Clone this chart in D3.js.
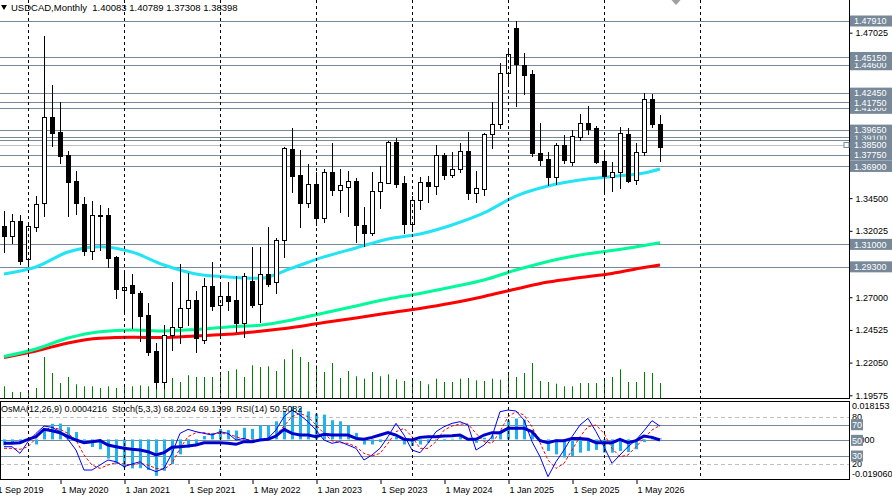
<!DOCTYPE html>
<html>
<head>
<meta charset="utf-8">
<script src="https://cdn.jsdelivr.net/npm/d3@7"></script>
<style>
  body { margin: 0; background: #fff; }
  svg { display: block; font-family: "Liberation Sans", Arial, sans-serif; }
</style>
</head>
<body>
<script>
// USDCAD monthly, first bar = Oct 2019
var firstMonth = new Date(2019, 9, 1);

var open = [1.3239,1.3166,1.3277,1.2987,1.3234,1.3411,1.4064,1.3951,1.3774,1.3580,1.3406,1.3050,1.3320,1.3322,1.3007,1.2755,1.2790,1.2730,1.2565,1.2293,1.2061,
  1.2414,1.2477,1.2616,1.2679,1.2376,1.2785,1.2639,1.2709,1.2679,1.2503,1.2823,1.2646,1.2874,1.2813,1.3133,1.3820,1.3625,1.3411,1.3557,1.3302,1.3646,
  1.3508,1.3537,1.3578,1.3245,1.3189,1.3506,1.3567,1.3873,1.3562,1.3252,1.3434,1.3575,1.3544,1.3779,1.3628,1.3673,1.3805,1.3491,1.3519,1.3933,
  1.4008,1.4395,1.4736,1.4458,1.4390,1.3794,1.3744,1.3608,1.3852,1.3726,1.3915,1.4017,1.3979,1.3731,1.3612,1.3650,1.3936,1.3587,1.3797,1.4198,1.40083];
var high = [1.3353,1.3330,1.3322,1.3272,1.3466,1.4678,1.4304,1.4180,1.3807,1.3653,1.3456,1.3426,1.3398,1.3373,1.3012,1.2883,1.2876,1.2747,1.2656,1.2354,1.2490,
  1.2818,1.2952,1.2881,1.2747,1.2843,1.2964,1.2813,1.2813,1.2861,1.2881,1.3078,1.3078,1.3229,1.3146,1.3840,1.3979,1.3815,1.3709,1.3650,1.3671,1.3865,
  1.3668,1.3658,1.3603,1.3385,1.3646,1.3696,1.3883,1.3903,1.3620,1.3466,1.3612,1.3618,1.3852,1.3790,1.3797,1.3865,1.3949,1.3653,1.3946,1.4180,
  1.4471,1.4587,1.4791,1.4547,1.4420,1.4017,1.3802,1.3868,1.3928,1.3966,1.4087,1.4148,1.3996,1.3815,1.3726,1.3989,1.3981,1.3870,1.4248,1.4238,1.40789];
var low = [1.3045,1.3113,1.2952,1.2944,1.3204,1.3317,1.3845,1.3718,1.3317,1.3330,1.3022,1.2987,1.3058,1.2927,1.2692,1.2588,1.2469,1.2371,1.2263,1.2011,1.2013,
  1.2301,1.2351,1.2490,1.2288,1.2351,1.2603,1.2389,1.2603,1.2439,1.2401,1.2628,1.2515,1.2785,1.2730,1.3005,1.3499,1.3229,1.3385,1.3247,1.3267,1.3474,
  1.3347,1.3315,1.3120,1.3088,1.3171,1.3378,1.3562,1.3537,1.3184,1.3204,1.3366,1.3423,1.3479,1.3593,1.3612,1.3648,1.3441,1.3423,1.3474,1.3827,
  1.3981,1.4322,1.4148,1.4238,1.3769,1.3701,1.3550,1.3557,1.3718,1.3701,1.3890,1.3936,1.3716,1.3479,1.3504,1.3529,1.3575,1.3557,1.3777,1.3991,1.37308];
var close = [1.3166,1.3277,1.2977,1.3239,1.3406,1.4062,1.3946,1.3771,1.3575,1.3411,1.3048,1.3320,1.3325,1.2999,1.2760,1.2780,1.2734,1.2560,1.2288,1.2061,1.2414,
  1.2475,1.2616,1.2679,1.2389,1.2785,1.2634,1.2709,1.2674,1.2503,1.2863,1.2641,1.2874,1.2798,1.3133,1.3827,1.3620,1.3411,1.3557,1.3302,1.3646,1.3512,
  1.3550,1.3578,1.3247,1.3189,1.3506,1.3575,1.3873,1.3555,1.3252,1.3434,1.3575,1.3544,1.3779,1.3628,1.3673,1.3805,1.3491,1.3525,1.3936,1.4009,
  1.4395,1.4539,1.4466,1.4382,1.3794,1.3739,1.3608,1.3852,1.3739,1.3920,1.4017,1.3974,1.3726,1.3620,1.3646,1.3943,1.3582,1.3797,1.4198,1.4010,1.38398];
var volume = [117,60,60,77,100,410,250,150,210,137,117,117,100,117,100,127,117,127,117,100,100,
  200,160,227,210,210,210,250,270,287,210,327,310,317,270,387,487,410,360,327,260,350,
  200,270,217,193,260,217,237,187,170,183,170,137,193,160,160,193,200,177,170,193,
  183,233,210,250,350,170,160,143,117,117,150,150,150,200,210,287,160,160,260,250,150];

// moving averages, read every 4th bar
var maBar = [0,4,8,12,16,20,24,28,32,36,40,44,48,52,56,60,64,68,72,76,80,82];
var maAqua = [1.2876,1.2929,1.3042,1.3083,1.3042,1.2944,1.2876,1.2853,1.2843,1.2921,1.3005,1.3073,1.3141,1.3179,1.3247,1.3338,1.3466,1.3542,1.3587,1.3614,1.3640,1.3671];
var maGreen = [1.2251,1.2308,1.2391,1.2439,1.2452,1.2444,1.2456,1.2475,1.2488,1.2528,1.2581,1.2634,1.2687,1.2728,1.2777,1.2830,1.2906,1.2971,1.3020,1.3054,1.3092,1.3113];
var maRed = [1.2244,1.2293,1.2354,1.2389,1.2397,1.2395,1.2407,1.2419,1.2442,1.2471,1.2509,1.2543,1.2581,1.2615,1.2656,1.2706,1.2762,1.2815,1.2849,1.2880,1.2925,1.2944];

var osma = [-0.0028,-0.0020,-0.0013,-0.0006,-0.0024,0.0050,0.0074,0.0075,0.0058,0.0035,
  -0.0016,-0.0036,-0.0047,-0.0091,-0.0118,-0.0133,-0.0138,-0.0137,-0.0145,-0.0173,
  -0.0149,-0.0118,-0.0071,-0.0039,-0.0024,0.0016,0.0031,0.0050,0.0044,0.0042,
  0.0055,0.0050,0.0066,0.0066,0.0086,0.0133,0.0157,0.0149,0.0133,0.0122,
  0.0118,0.0091,0.0086,0.0066,0.0031,-0.0024,-0.0024,-0.0013,0.0003,0.0013,
  -0.0024,-0.0031,-0.0024,-0.0016,-0.0006,-0.0008,0.0003,0.0013,0.0006,-0.0016,
  0.0008,0.0019,0.0039,0.0091,0.0099,0.0094,0.0044,-0.0008,-0.0055,-0.0071,
  -0.0086,-0.0079,-0.0063,-0.0055,-0.0050,-0.0063,-0.0063,-0.0055,-0.0060,-0.0047,
  -0.0013,0.0013,0.0004216];
var stochMain = [41.9,41.9,33.4,48.3,58.9,68.3,66.6,61.1,51.3,37.6,
  12.1,12.1,18.5,24.9,22.7,16.4,19.8,22.7,14.2,10.0,
  14.2,33.4,58.9,64.0,61.1,58.9,56.8,61.1,58.9,50.4,
  52.5,48.3,50.4,52.5,63.2,80.2,88.7,82.3,73.8,63.2,
  50.4,46.2,48.3,44.0,39.8,24.9,31.3,39.8,54.7,71.7,
  56.8,37.6,34.2,46.2,61.1,67.4,71.7,73.8,69.6,37.6,
  44.0,54.7,86.6,88.7,87.5,76.0,48.3,29.1,3.6,22.7,
  37.6,54.7,69.6,78.1,61.1,41.9,20.6,31.3,41.9,50.4,
  62.3,75.1,68.2024];
var stochSignal = [39.8,39.8,38.5,41.9,52.5,63.2,66.6,64.0,58.9,50.4,
  31.3,18.5,14.2,18.5,21.5,19.8,18.5,20.6,18.5,14.2,
  13.0,20.6,39.8,54.7,59.8,59.8,58.1,58.9,58.1,54.7,
  51.3,50.4,50.4,51.3,56.8,68.3,80.2,84.5,80.2,69.6,
  58.9,49.6,47.0,46.2,41.9,33.4,30.0,33.4,46.2,61.1,
  65.3,54.7,39.8,39.8,48.3,63.0,68.3,70.8,70.8,58.9,
  48.3,46.2,61.1,80.2,86.6,82.3,67.4,47.0,24.9,14.2,
  20.6,37.6,54.7,67.4,69.6,58.9,39.8,29.1,31.3,41.9,
  52.5,63.2,69.1399];
var rsi = [46.2,46.2,47.0,51.3,54.7,64.0,62.3,59.8,54.7,50.4,
  47.0,48.3,49.6,44.0,41.9,39.8,38.5,37.6,35.5,31.3,
  34.2,41.1,41.9,42.8,44.0,47.0,47.0,47.0,46.2,44.9,
  48.3,48.3,50.4,51.3,55.5,64.0,58.9,56.8,56.8,54.7,
  57.7,56.8,56.8,56.8,52.5,51.3,53.8,56.8,59.8,56.8,
  51.3,50.4,53.8,54.7,54.7,55.5,55.9,56.8,51.3,51.3,
  56.8,59.8,59.8,65.3,65.3,65.3,61.1,49.6,47.0,49.6,
  49.6,52.5,52.5,51.3,47.0,47.0,47.0,51.3,47.0,49.6,
  55.5,53.8,50.5082];

// horizontal lines; labelled ones drawn in this order (later boxes cover earlier)
var levelLines = [1.3890];
var levels = [1.4460,1.4130,1.3910,1.4791,1.4515,1.4245,1.4175,1.3965,1.3775,1.3690,1.3100,1.2930];
var bidLevel = 1.3850;
// only the price ticks that are not hidden behind level labels
var priceTicks = [1.47025,1.34500,1.32025,1.27000,1.24525,1.22050,1.19575];
var dateTicks = ["2019-09","2020-05","2021-01","2021-09","2022-05","2023-01","2023-09","2024-05","2025-01","2025-09","2026-05"];
var yearGrid = ["2020-01","2021-01","2022-01","2023-01","2024-01","2025-01","2026-01","2027-01"];
var subSolid = [70, 50, 30];
var subDashed = [80, 20];

var W = 892, H = 499, axisX = 849, mainBottom = 398, subTop = 401, subBottom = 480;
var parseMonth = d3.timeParse("%Y-%m");
var fmtDate = d3.timeFormat("%-d %b %Y");
function barOf(s) { return d3.timeMonth.count(firstMonth, parseMonth(s)); }

var x = d3.scaleLinear().domain([0, 1]).range([4, 12]);
var y = d3.scaleLinear().domain([1.19575, 1.47025]).range([395.3, 32.7]);
var yVol = d3.scaleLinear().domain([0, 500]).range([mainBottom, mainBottom - 50]);
var ySub = d3.scaleLinear().domain([0, 100]).range([479.5, 401.2]);
var yOsma = d3.scaleLinear().domain([-0.019060, 0.018153]).range([479.5, 401.2]);

var svg = d3.select("body").append("svg")
  .attr("width", W).attr("height", H)
  .style("background", "#fff");

var defs = svg.append("defs");
defs.append("clipPath").attr("id", "cm").append("rect")
  .attr("x", 0).attr("y", 0).attr("width", axisX).attr("height", mainBottom);
defs.append("clipPath").attr("id", "cs").append("rect")
  .attr("x", 0).attr("y", subTop).attr("width", axisX).attr("height", subBottom - subTop);

var main = svg.append("g").attr("clip-path", "url(#cm)");
var sub = svg.append("g").attr("clip-path", "url(#cs)");
var bars = d3.range(open.length);

// vertical year grid
yearGrid.forEach(function(s) {
  var gx = Math.round(x(barOf(s))) + 0.5;
  [[0, mainBottom], [subTop, subBottom]].forEach(function(r) {
    svg.append("line").attr("x1", gx).attr("x2", gx).attr("y1", r[0]).attr("y2", r[1])
      .attr("stroke", "#000").attr("stroke-dasharray", "3,3");
  });
});

// horizontal level lines
levelLines.concat(levels).forEach(function(v) {
  var ly = Math.round(y(v)) + 0.5;
  main.append("line").attr("x1", 0).attr("x2", axisX).attr("y1", ly).attr("y2", ly)
    .attr("stroke", "#778899");
});
var by = Math.round(y(bidLevel)) + 0.5;
main.append("line").attr("x1", 0).attr("x2", axisX).attr("y1", by).attr("y2", by)
  .attr("stroke", "#c0c0c0");

// volumes
main.selectAll(".vol").data(bars).enter().append("line")
  .attr("x1", function(i) { return x(i) + 0.5; })
  .attr("x2", function(i) { return x(i) + 0.5; })
  .attr("y1", mainBottom)
  .attr("y2", function(i) { return yVol(volume[i]); })
  .attr("stroke", "#008000");

// moving averages
function maLine(vals, color) {
  var line = d3.line()
    .x(function(d, k) { return x(maBar[k]); })
    .y(function(d) { return y(d); })
    .curve(d3.curveMonotoneX);
  main.append("path").attr("d", line(vals)).attr("fill", "none")
    .attr("stroke", color).attr("stroke-width", 3);
}
maLine(maRed, "#ff0000");
maLine(maGreen, "#00fa9a");
maLine(maAqua, "#22e4f4");

// candles
var candle = main.selectAll(".c").data(bars).enter().append("g");
candle.append("line")
  .attr("x1", function(i) { return x(i) + 0.5; })
  .attr("x2", function(i) { return x(i) + 0.5; })
  .attr("y1", function(i) { return Math.round(y(high[i])); })
  .attr("y2", function(i) { return Math.round(y(low[i])) + 1; })
  .attr("stroke", "#000");
candle.append("rect")
  .attr("x", function(i) { return x(i) - 2 + 0.5; })
  .attr("y", function(i) { return Math.round(y(Math.max(open[i], close[i]))) + 0.5; })
  .attr("width", 4)
  .attr("height", function(i) {
    return Math.max(1, Math.round(y(Math.min(open[i], close[i]))) - Math.round(y(Math.max(open[i], close[i]))));
  })
  .attr("fill", function(i) { return close[i] >= open[i] ? "#fff" : "#000"; })
  .attr("stroke", "#000");

// sub window: levels
subDashed.forEach(function(v) {
  var ly = Math.round(ySub(v)) + 0.5;
  sub.append("line").attr("x1", 0).attr("x2", axisX).attr("y1", ly).attr("y2", ly)
    .attr("stroke", "#c0c0c0").attr("stroke-dasharray", "4,3");
});
subSolid.forEach(function(v) {
  var ly = Math.round(ySub(v)) + 0.5;
  sub.append("line").attr("x1", 0).attr("x2", axisX).attr("y1", ly).attr("y2", ly)
    .attr("stroke", "#778899");
});

// OsMA histogram
sub.selectAll(".os").data(bars).enter().append("rect")
  .attr("x", function(i) { return x(i) - 1; })
  .attr("width", 3)
  .attr("y", function(i) { return Math.min(yOsma(0), yOsma(osma[i])); })
  .attr("height", function(i) { return Math.abs(yOsma(osma[i]) - yOsma(0)); })
  .attr("fill", "#1fb2ee");

var subLine = d3.line().x(function(d, i) { return x(i); }).y(function(d) { return ySub(d); });
sub.append("path").attr("d", subLine(stochSignal)).attr("fill", "none")
  .attr("stroke", "#ff0000").attr("stroke-dasharray", "3,2");
sub.append("path").attr("d", subLine(stochMain)).attr("fill", "none")
  .attr("stroke", "#0000ff");
sub.append("path").attr("d", subLine(rsi)).attr("fill", "none")
  .attr("stroke", "#0000cd").attr("stroke-width", 3);

// frames
svg.append("line").attr("x1", axisX + 0.5).attr("x2", axisX + 0.5).attr("y1", 0).attr("y2", mainBottom + 1).attr("stroke", "#000");
svg.append("line").attr("x1", 0).attr("x2", axisX + 1).attr("y1", mainBottom + 0.5).attr("y2", mainBottom + 0.5).attr("stroke", "#000");
svg.append("rect").attr("x", 0.5).attr("y", subTop + 0.5).attr("width", axisX).attr("height", subBottom - subTop - 1)
  .attr("fill", "none").attr("stroke", "#000");

// price axis
var pAxis = svg.append("g").attr("transform", "translate(" + (axisX + 0.5) + ",0)")
  .call(d3.axisRight(y).tickValues(priceTicks).tickFormat(d3.format(".5f")).tickSize(3).tickPadding(3));
pAxis.select(".domain").remove();
pAxis.selectAll("text").attr("font-size", 9).attr("font-family", "Liberation Sans, Arial, sans-serif").attr("fill", "#000");

// level label boxes
function boxLabel(v, txt) {
  var cy = y(v);
  svg.append("rect").attr("x", 850).attr("y", cy - 5.5).attr("width", 42).attr("height", 11).attr("fill", "#778899");
  svg.append("text").attr("x", 854).attr("y", cy).attr("dy", "0.35em")
    .attr("font-size", 9).attr("fill", "#fff").text(txt);
}
levels.forEach(function(v) { boxLabel(v, d3.format(".5f")(v)); });
boxLabel(bidLevel, d3.format(".5f")(bidLevel));
svg.append("rect").attr("x", axisX - 5).attr("y", by - 3).attr("width", 5).attr("height", 5)
  .attr("fill", "#fff").attr("stroke", "#778899");

// sub window right labels
function subText(yy, txt) {
  svg.append("text").attr("x", 852).attr("y", yy).attr("dy", "0.35em").attr("font-size", 9).attr("fill", "#000").text(txt);
}
subText(yOsma(0.018153) + 5, "0.018153");
subText(yOsma(-0.019060) - 6, "-0.019060");
subText(yOsma(0), "0.000");
subDashed.forEach(function(v) { subText(ySub(v), String(v)); });
subSolid.forEach(function(v) {
  var cy = ySub(v);
  svg.append("rect").attr("x", 851).attr("y", cy - 5.5).attr("width", 12).attr("height", 11).attr("fill", "#778899");
  svg.append("text").attr("x", 852).attr("y", cy).attr("dy", "0.35em").attr("font-size", 9).attr("fill", "#fff").text(v);
});

// date axis
var dAxis = svg.append("g").attr("transform", "translate(0," + subBottom + ")")
  .call(d3.axisBottom(x).tickValues(dateTicks.map(barOf))
    .tickFormat(function(i) { return fmtDate(d3.timeMonth.offset(firstMonth, i)); })
    .tickSize(4).tickPadding(3));
dAxis.select(".domain").remove();
dAxis.selectAll("line").attr("transform", "translate(0.5,0)");
dAxis.selectAll("text").attr("text-anchor", "start").attr("dx", 1)
  .attr("font-size", 9).attr("font-family", "Liberation Sans, Arial, sans-serif").attr("fill", "#000");

// titles
svg.append("path").attr("d", "M1,5 L7,5 L4,10 Z").attr("fill", "#000");
svg.append("text").attr("x", 11).attr("y", 8).attr("dy", "0.35em").attr("font-size", 9.5)
  .attr("fill", "#000").style("white-space", "pre")
  .text("USDCAD,Monthly  " + [open, high, low, close].map(function(a) { return d3.format(".5f")(a[a.length - 1]); }).join(" "));
svg.append("text").attr("x", 1).attr("y", 409).attr("dy", "0.35em").attr("font-size", 9)
  .attr("fill", "#000").style("white-space", "pre")
  .text("OsMA(12,26,9) " + osma[osma.length - 1].toFixed(7) +
        "  Stoch(5,3,3) " + stochMain[stochMain.length - 1].toFixed(4) + " " + stochSignal[stochSignal.length - 1].toFixed(4) +
        "  RSI(14) " + rsi[rsi.length - 1].toFixed(4));

// chart shift marker
var sx = x(open.length + 1);
svg.append("path").attr("d", "M" + (sx - 4.5) + ",0 L" + (sx + 4.5) + ",0 L" + sx + ",5 Z").attr("fill", "#a0a0a0");
</script>
</body>
</html>
